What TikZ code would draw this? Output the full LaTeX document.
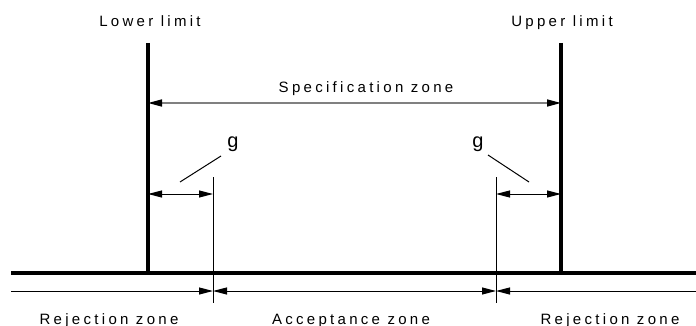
\documentclass[tikz,border=0pt]{standalone}
\usepackage{fontspec}
\setmainfont{Liberation Sans}[LetterSpace=22]
\usetikzlibrary{arrows.meta}

\tikzset{
    zt/.tip={Triangle[length=14pt,width=7pt,color=black]},
    lim/.style={line width=3.2pt},
    thin/.style={line width=1pt},
    dim/.style={line width=1pt, {zt}-{zt}},
    lbl/.style={font=\fontsize{15}{17}\selectfont, inner sep=0pt, anchor=base},
    glbl/.style={font=\fontsize{20}{22}\selectfont, inner sep=0pt, anchor=base}
}

\begin{document}
\begin{tikzpicture}[x=1pt,y=-1pt]
    \useasboundingbox (0,0) rectangle (696,326);
    % limits and base
    \coordinate (lt) at (148,43);
    \coordinate (lb) at (148,273);
    \coordinate (ut) at (561,43);
    \coordinate (ub) at (561,273);
    \coordinate (b0) at (11,273);
    \coordinate (b1) at (696,273);
    \draw[lim] (lt) -- (lb);
    \draw[lim] (ut) -- (ub);
    \draw[lim] (b0) -- (b1);
    \node[lbl] (lower) at (150,27) {Lower limit};
    \node[lbl] (upper) at (562,27) {Upper limit};
    % specification zone
    \coordinate (s0) at (148,103);
    \coordinate (s1) at (561,103);
    \draw[dim, gray, line width=1.6pt] (s0) -- (s1);
    \node[lbl] (spec) at (366,93) {Specification zone};
    % acceptance boundaries
    \coordinate (at) at (213,177);
    \coordinate (ab) at (213,303);
    \coordinate (bt) at (496,177);
    \coordinate (bb) at (496,303);
    \draw[thin] (at) -- (ab);
    \draw[thin] (bt) -- (bb);
    % guard bands
    \coordinate (g0) at (148,194);
    \coordinate (g1) at (213,194);
    \coordinate (g2) at (496,194);
    \coordinate (g3) at (561,194);
    \draw[dim] (g0) -- (g1);
    \draw[dim] (g2) -- (g3);
    \node[glbl] (gl) at (233,148) {g};
    \node[glbl] (gr) at (478,148) {g};
    \coordinate (gl0) at (180,182);
    \coordinate (gl1) at (221,156);
    \coordinate (gr0) at (488,155);
    \coordinate (gr1) at (529,182);
    \draw[thin] (gl0) -- (gl1);
    \draw[thin] (gr0) -- (gr1);
    % zones
    \coordinate (z0) at (11,291);
    \coordinate (z1) at (213,291);
    \coordinate (z2) at (496,291);
    \coordinate (z3) at (696,291);
    \draw[thin, -{zt}] (z0) -- (z1);
    \draw[dim] (z1) -- (z2);
    \draw[thin, {zt}-] (z2) -- (z3);
    \node[lbl] (rej1) at (109,324) {Rejection zone};
    \node[lbl] (acc) at (351,324) {Acceptance zone};
    \node[lbl] (rej2) at (610,324) {Rejection zone};
\end{tikzpicture}
\end{document}
